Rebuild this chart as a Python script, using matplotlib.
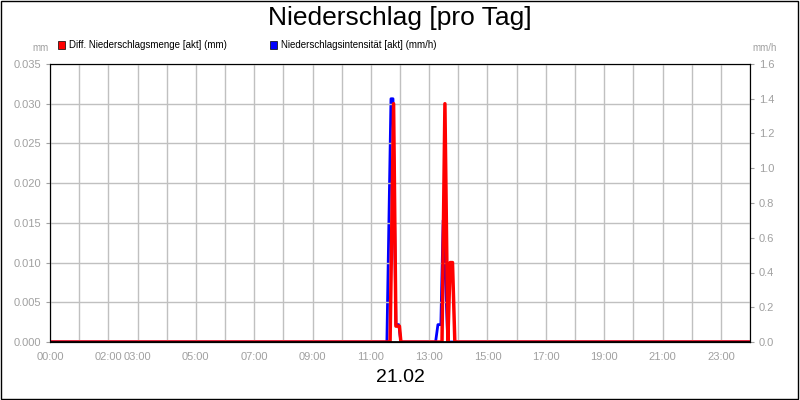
import matplotlib
matplotlib.use('Agg')
import matplotlib.pyplot as plt
from matplotlib.patches import Rectangle

plt.rcParams['font.family'] = ['Liberation Sans', 'DejaVu Sans']

# hours of day, values
red_t = [0, 11.58, 11.66, 11.78, 11.86, 11.98, 12.03, 13.34, 13.44, 13.54, 13.64, 13.72, 13.8, 13.88, 24]
red_v = [0, 0, 0, 0.030, 0.002, 0.002, 0, 0, 0, 0.030, 0, 0.010, 0.010, 0, 0]
blue_t = [0, 11.55, 11.69, 11.76, 11.86, 11.96, 12.03, 13.22, 13.3, 13.4, 13.48, 13.64, 24]
blue_v = [0, 0, 1.4, 1.4, 0.1, 0.1, 0, 0, 0.1, 0.1, 0.7, 0, 0]
xtick_pos = [0, 2, 3, 5, 7, 9, 11, 13, 15, 17, 19, 21, 23]
xtick_lab = ['00:00', '02:00', '03:00', '05:00', '07:00', '09:00', '11:00', '13:00',
             '15:00', '17:00', '19:00', '21:00', '23:00']

fig = plt.figure(figsize=(8, 4), dpi=100)
fig.patches.append(Rectangle((0.001, 0.002), 0.997, 0.995, transform=fig.transFigure,
                             fill=False, edgecolor='black', linewidth=1))
ax = fig.add_axes([50/800, 58/400, 700/800, 278/400])
ax2 = ax.twinx()
ax.set_xlim(0, 24)
ax.set_ylim(0, 0.035)
ax2.set_ylim(0, 1.6)
ax.set_xticks(range(25))
ax.set_xticklabels([''] * 25)
for p, l in zip(xtick_pos, xtick_lab):
    ax.text(p, -0.0012, l, ha='center', va='top', fontsize=8, color='#a0a0a0')
ax.set_yticks([i * 0.005 for i in range(8)])
ax.set_yticklabels([f'{i*0.005:.3f}' for i in range(8)])
ax2.set_yticks([i * 0.2 for i in range(9)])
ax2.set_yticklabels([f'{i*0.2:.1f}' for i in range(9)])
for a in (ax, ax2):
    a.tick_params(labelsize=8, labelcolor='#a0a0a0', color='#a0a0a0', length=3)
ax.tick_params(axis='x', length=0)
ax.grid(True, color='#c0c0c0', linewidth=1)
ax.set_axisbelow(True)
ax2.plot(blue_t, blue_v, color='blue', linewidth=2)
ax.plot(red_t, red_v, color='red', linewidth=2.5)
ax.set_zorder(ax2.get_zorder() + 1)
ax.patch.set_visible(False)
ax.axhline(0, color='black', linewidth=2)

fig.text(0.5, 0.955, 'Niederschlag [pro Tag]', ha='center', va='center', fontsize=19)
fig.text(0.5, 0.055, '21.02', ha='center', va='center', fontsize=14)
fig.text(32/800, 1 - 48/400, 'mm', fontsize=7, color='#a0a0a0', va='center')
fig.text(752/800, 1 - 48/400, 'mm/h', fontsize=7, color='#a0a0a0', va='center')
fig.patches.append(Rectangle((58/800, 1 - 49/400), 7/800, 8/400, transform=fig.transFigure,
                             facecolor='red', edgecolor='black', linewidth=0.5))
fig.text(69/800, 1 - 45/400, 'Diff. Niederschlagsmenge [akt] (mm)', fontsize=7, va='center')
fig.patches.append(Rectangle((270/800, 1 - 49/400), 7/800, 8/400, transform=fig.transFigure,
                             facecolor='blue', edgecolor='black', linewidth=0.5))
fig.text(281/800, 1 - 45/400, 'Niederschlagsintensität [akt] (mm/h)', fontsize=7, va='center')

fig.savefig('out.png', dpi=100, facecolor='white')
